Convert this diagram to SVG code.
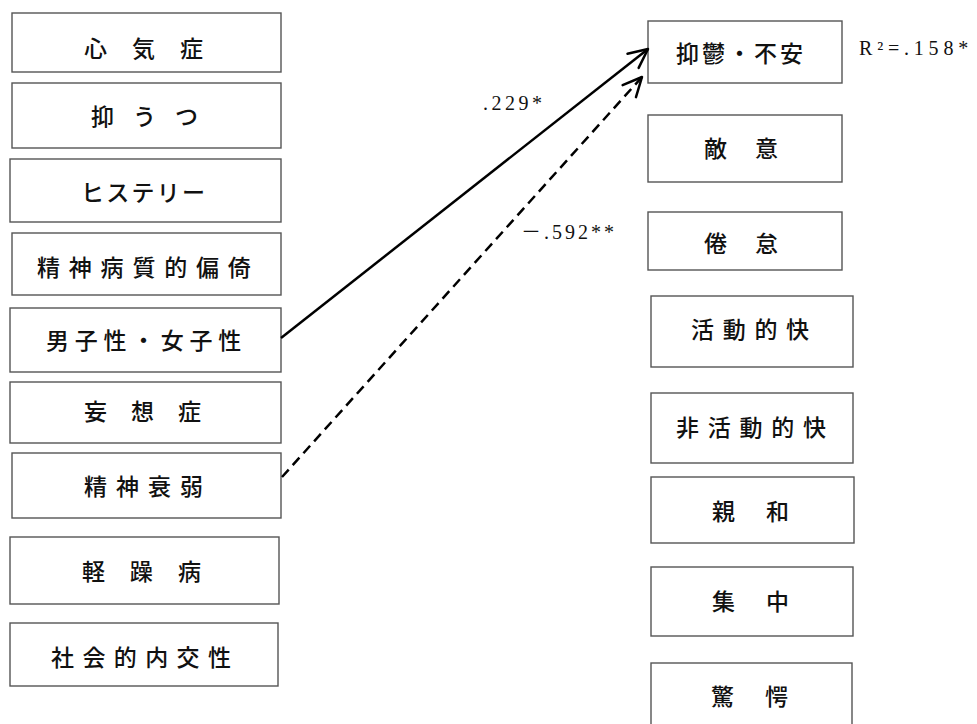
<svg xmlns="http://www.w3.org/2000/svg" width="977" height="724" viewBox="0 0 977 724">
<style>
.box{fill:#fff;stroke:#555;stroke-width:1.4}
.lt{font-family:"Noto Sans CJK JP","Noto Sans CJK SC",sans-serif;font-size:23px;font-weight:500;fill:#111}
.num{font-family:"Liberation Serif","Noto Sans CJK JP",serif;font-size:20px;fill:#111}
.edge{fill:none;stroke:#000;stroke-width:2.5}
.dash{stroke-dasharray:10 6}
</style>
<defs>
<marker id="ah" markerUnits="userSpaceOnUse" markerWidth="30" markerHeight="24" viewBox="0 0 30 24" refX="22" refY="12" orient="auto">
<path d="M3,3 L22,12 L3,21" fill="none" stroke="#000" stroke-width="2.5" stroke-linecap="round" stroke-linejoin="round"/>
</marker>
</defs>
<rect width="977" height="724" fill="#fff"/>
<g id="L1"><rect class="box" x="12" y="13" width="269" height="59"/><text class="lt" x="84" y="56.7" letter-spacing="9.9">心 気 症</text></g>
<g id="L2"><rect class="box" x="12" y="83" width="269" height="65"/><text class="lt" x="91" y="124.7" letter-spacing="6.9">抑 う つ</text></g>
<g id="L3"><rect class="box" x="10" y="159" width="271" height="63"/><text class="lt" x="81" y="200.7" letter-spacing="2.25">ヒステリー</text></g>
<g id="L4"><rect class="box" x="12" y="233" width="269" height="62"/><text class="lt" x="37" y="276.2" letter-spacing="8.8">精神病質的偏倚</text></g>
<g id="L5"><rect class="box" x="10" y="308" width="271" height="64"/><text class="lt" x="46" y="348.7" letter-spacing="5.7">男子性・女子性</text></g>
<g id="L6"><rect class="box" x="10" y="382" width="271" height="61"/><text class="lt" x="84" y="420.2" letter-spacing="9.4">妄 想 症</text></g>
<g id="L7"><rect class="box" x="12" y="453" width="269" height="65"/><text class="lt" x="84" y="494.7" letter-spacing="9">精神衰弱</text></g>
<g id="L8"><rect class="box" x="10" y="537" width="269" height="67"/><text class="lt" x="82" y="579.7" letter-spacing="9.9">軽 躁 病</text></g>
<g id="L9"><rect class="box" x="10" y="623" width="268" height="63"/><text class="lt" x="51" y="666.2" letter-spacing="8.4">社会的内交性</text></g>
<g id="R1"><rect class="box" x="648" y="21" width="194" height="62"/><text class="lt" x="676" y="61.7" letter-spacing="3">抑鬱・不安</text></g>
<g id="R2"><rect class="box" x="648" y="115" width="194" height="67"/><text class="lt" x="704" y="156.7" letter-spacing="11.4">敵 意</text></g>
<g id="R3"><rect class="box" x="648" y="212" width="194" height="58"/><text class="lt" x="704" y="251.7" letter-spacing="11.4">倦 怠</text></g>
<g id="R4"><rect class="box" x="651" y="296" width="202" height="71"/><text class="lt" x="691" y="337.7" letter-spacing="8.7">活動的快</text></g>
<g id="R5"><rect class="box" x="651" y="393" width="202" height="70"/><text class="lt" x="676" y="435.7" letter-spacing="8.75">非活動的快</text></g>
<g id="R6"><rect class="box" x="651" y="477" width="203" height="66"/><text class="lt" x="712" y="519.7" letter-spacing="12.9">親 和</text></g>
<g id="R7"><rect class="box" x="651" y="567" width="202" height="69"/><text class="lt" x="712" y="609.7" letter-spacing="12.9">集 中</text></g>
<g id="R8"><rect class="box" x="651" y="663" width="201" height="70"/><text class="lt" x="711" y="704.7" letter-spacing="12.9">驚 愕</text></g>
<g id="connectors">
<path class="edge" d="M281,338 L648,49" marker-end="url(#ah)"/>
<path class="edge dash" d="M282,477 L642,77" marker-end="url(#ah)"/>
</g>
<g id="labels">
<text class="num" x="483" y="110" letter-spacing="3.5">.229*</text>
<text class="num" x="521" y="239" letter-spacing="3">－.592**</text>
<text class="num" x="859" y="55" letter-spacing="4.8">R²=.158*</text>
</g>
</svg>
